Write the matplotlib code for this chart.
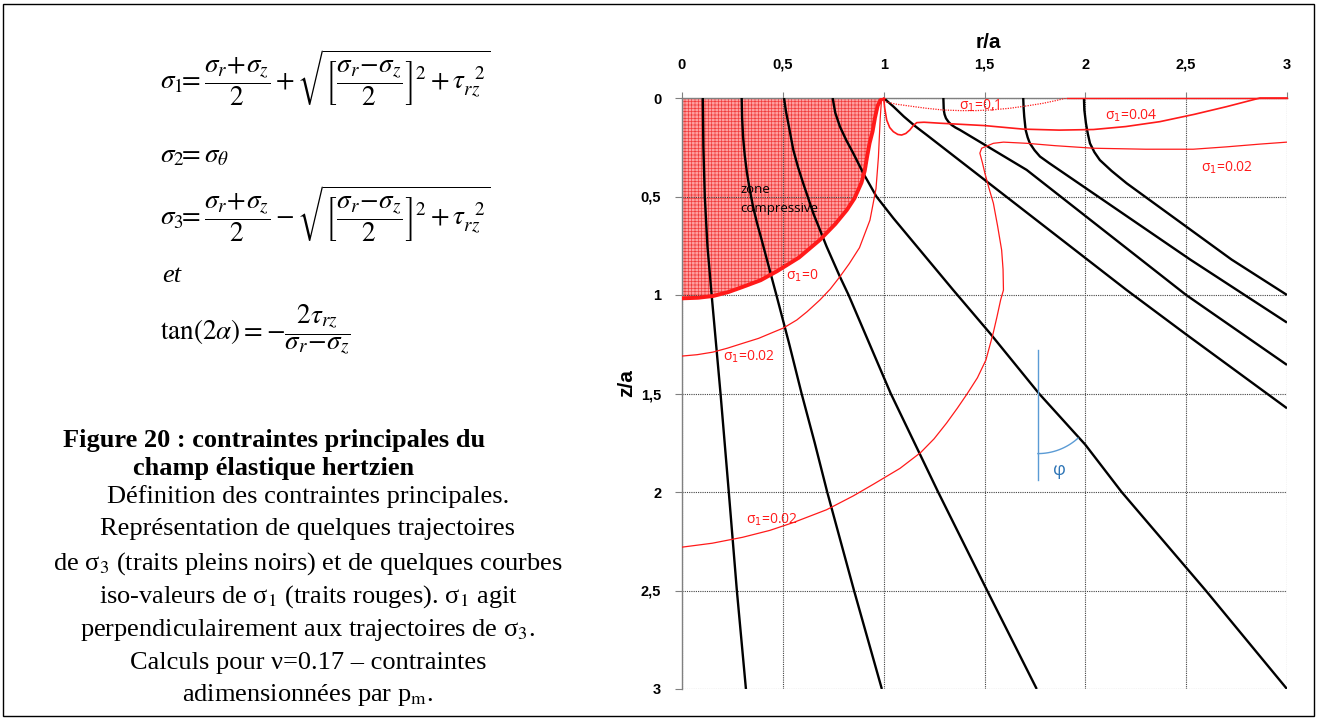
import numpy as np
import matplotlib
matplotlib.use('Agg')
import matplotlib.pyplot as plt
from matplotlib.patches import Rectangle

# ---------------- data ----------------
r_ticks = [0, 0.5, 1, 1.5, 2, 2.5, 3]
r_tick_labels = ['0', '0,5', '1', '1,5', '2', '2,5', '3']
z_ticks = [0, 0.5, 1, 1.5, 2, 2.5, 3]
z_tick_labels = ['0', '0,5', '1', '1,5', '2', '2,5', '3']

# sigma3 trajectories (black)
trajA_r = [0.103, 0.106, 0.113, 0.126, 0.147, 0.191, 0.232, 0.272, 0.317]
trajA_z = [0.0, 0.25, 0.5, 0.75, 1.0, 1.5, 2.0, 2.5, 3.0]
trajB_r = [0.296, 0.298, 0.303, 0.311, 0.322, 0.336, 0.352, 0.372, 0.395, 0.434, 0.468, 0.532, 0.593, 0.658, 0.72, 0.853, 0.991]
trajB_z = [0.0, 0.1, 0.2, 0.29, 0.38, 0.465, 0.55, 0.635, 0.72, 0.87, 1.0, 1.25, 1.5, 1.75, 2.0, 2.5, 3.0]
trajC_r = [0.506, 0.515, 0.527, 0.552, 0.575, 0.601, 0.651, 0.717, 0.783, 0.826, 1.035, 1.27, 1.513, 1.759]
trajC_z = [0.0, 0.065, 0.128, 0.264, 0.35, 0.433, 0.585, 0.754, 0.907, 1.0, 1.5, 2.0, 2.5, 3.0]
trajD_r = [0.747, 0.76, 0.783, 0.815, 0.849, 0.899, 0.964, 1.048, 1.345, 1.527, 1.77, 2.0, 2.18, 2.597, 3.0]
trajD_z = [0.0, 0.075, 0.145, 0.215, 0.28, 0.382, 0.5, 0.61, 0.975, 1.194, 1.5, 1.76, 2.0, 2.5, 3.0]
trajE_r = [1.0, 1.05, 1.1, 1.155, 1.214, 2.205, 2.5, 3.0]
trajE_z = [0.0, 0.045, 0.094, 0.142, 0.188, 0.975, 1.2, 1.575]
trajF_r = [1.296, 1.297, 1.298, 1.302, 1.309, 1.322, 1.337, 1.356, 1.378, 1.44, 1.709, 2.5, 3.0]
trajF_z = [0.0, 0.03, 0.061, 0.083, 0.103, 0.122, 0.137, 0.15, 0.162, 0.2, 0.365, 1.0, 1.355]
trajG_r = [1.692, 1.694, 1.697, 1.704, 1.714, 1.725, 1.748, 1.775, 1.82, 2.52, 3.0]
trajG_z = [0.0, 0.05, 0.094, 0.162, 0.2, 0.23, 0.265, 0.297, 0.33, 0.82, 1.14]
trajH_r = [1.993, 1.995, 2.003, 2.012, 2.023, 2.045, 2.072, 2.13, 2.205, 2.725, 3.0]
trajH_z = [0.0, 0.06, 0.128, 0.18, 0.23, 0.275, 0.315, 0.37, 0.433, 0.82, 1.0]

# sigma1 iso-value curves (red)
s1_0_r = [0.0, 0.08, 0.155, 0.23, 0.304, 0.39, 0.47, 0.58, 0.684, 0.76, 0.817, 0.855, 0.89,
          0.906, 0.918, 0.93, 0.945, 0.957, 0.97, 0.985, 1.0]
s1_0_z = [1.017, 1.014, 1.005, 0.985, 0.958, 0.925, 0.88, 0.81, 0.72, 0.64, 0.569, 0.51, 0.43,
          0.37, 0.297, 0.23, 0.17, 0.1, 0.04, 0.01, 0.0]
s1_01_r = [1.0, 1.006, 1.06, 1.13, 1.21, 1.296, 1.38, 1.46, 1.54, 1.626, 1.71, 1.79, 1.85, 1.907]
s1_01_z = [0.0, 0.019, 0.031, 0.041, 0.052, 0.061, 0.064, 0.064, 0.06, 0.052, 0.04, 0.027, 0.014, 0.0]
surf_r = [1.907, 3.0]
surf_z = [0.0, 0.0]
s1_004_r = [1.0, 1.005, 1.015, 1.03, 1.048, 1.07, 1.089, 1.11, 1.13, 1.147, 1.164, 1.2, 1.28, 1.5,
            1.692, 1.87, 2.04, 2.2, 2.37, 2.54, 2.7, 2.866, 3.0]
s1_004_z = [0.0, 0.05, 0.112, 0.15, 0.171, 0.185, 0.188, 0.18, 0.162, 0.14, 0.125, 0.123, 0.128, 0.14,
            0.158, 0.163, 0.16, 0.145, 0.12, 0.083, 0.044, 0.0, 0.0]
s1_002in_r = [0.99, 0.983, 0.974, 0.962, 0.932, 0.88, 0.83, 0.783, 0.735, 0.684, 0.62, 0.569, 0.502,
              0.45, 0.38, 0.302, 0.225, 0.153, 0.075, 0.0]
s1_002in_z = [0.0, 0.1, 0.3, 0.46, 0.62, 0.76, 0.84, 0.907, 0.97, 1.025, 1.085, 1.127, 1.168,
              1.19, 1.22, 1.245, 1.27, 1.29, 1.303, 1.31]
s1_002out_r = [3.0, 2.866, 2.7, 2.535, 2.3, 2.04, 1.85, 1.71, 1.594, 1.544, 1.486, 1.477, 1.49, 1.502,
               1.52, 1.544, 1.565, 1.585, 1.592, 1.594, 1.58, 1.562, 1.543, 1.507, 1.465, 1.415, 1.365,
               1.312, 1.25, 1.183, 1.081, 0.95, 0.849, 0.717, 0.552, 0.435, 0.3, 0.15, 0.0]
s1_002out_z = [0.224, 0.234, 0.248, 0.26, 0.26, 0.255, 0.242, 0.23, 0.224, 0.23, 0.255, 0.28, 0.33, 0.382,
               0.45, 0.534, 0.65, 0.772, 0.87, 0.975, 1.025, 1.11, 1.194, 1.33, 1.42, 1.5, 1.575,
               1.65, 1.73, 1.8, 1.88, 1.96, 2.02, 2.09, 2.155, 2.195, 2.23, 2.26, 2.28]

# labels on the plot: (text, r, z)
red_labels = [('σ$_1$=0,1', 1.475, 0.04),
              ('σ$_1$=0.04', 2.226, 0.09),
              ('σ$_1$=0.02', 2.70, 0.355),
              ('σ$_1$=0', 0.597, 0.90),
              ('σ$_1$=0.02', 0.333, 1.313),
              ('σ$_1$=0.02', 0.445, 2.14)]

# angle phi annotation
phi_r0, phi_z0 = 1.765, 1.5
phi_v_z = [1.28, 1.94]
phi_rad_r, phi_rad_z = 0.297, 0.305
phi_deg = 42

# ---------------- figure ----------------
plt.rcParams['mathtext.fontset'] = 'stix'
plt.rcParams['hatch.linewidth'] = 0.5

W, H = 1318, 720
fig = plt.figure(figsize=(W / 100, H / 100), dpi=100)
fig.patch.set_facecolor('white')

ax = fig.add_axes([682 / W, 1 - 689 / H, 605 / W, 591 / H])
ax.set_xlim(0, 3)
ax.set_ylim(3, 0)

# compressive zone
ax.fill([0] + s1_0_r, [0] + s1_0_z, facecolor='#ffa0a0', edgecolor='#f03c3c',
        hatch='+++++', linewidth=0, zorder=1)

ax.grid(True, color='#444444', linestyle=(0, (1, 1)), linewidth=0.8)

black_kw = dict(color='black', lw=1.7, zorder=3, solid_capstyle='butt', solid_joinstyle='round')
for rr, zz in [(trajA_r, trajA_z), (trajB_r, trajB_z), (trajC_r, trajC_z), (trajD_r, trajD_z),
               (trajE_r, trajE_z), (trajF_r, trajF_z), (trajG_r, trajG_z), (trajH_r, trajH_z)]:
    ax.plot(rr, zz, **black_kw)

red = '#ff1a1a'
ax.plot(s1_0_r, s1_0_z, color=red, lw=2.8, zorder=4, solid_joinstyle='round')
ax.plot(s1_01_r, s1_01_z, color=red, lw=0.9, ls=(0, (1, 1)), zorder=4)
ax.plot(surf_r, surf_z, color=red, lw=1.0, zorder=4, clip_on=False)
ax.plot(s1_004_r, s1_004_z, color=red, lw=1.2, zorder=4, clip_on=False)
ax.plot(s1_002in_r, s1_002in_z, color=red, lw=0.9, zorder=4)
ax.plot(s1_002out_r, s1_002out_z, color=red, lw=0.9, zorder=4)

for txt, rr, zz in red_labels:
    ax.text(rr, zz, txt, color=red, fontsize=10, family=['Open Sans', 'DejaVu Sans'],
            math_fontfamily='dejavusans', ha='center', va='center', zorder=5)

ax.text(0.288, 0.467, 'zone', fontsize=9.5, family=['Open Sans', 'DejaVu Sans'],
        ha='left', va='center', zorder=5)
ax.text(0.288, 0.563, 'compressive', fontsize=9.5, family=['Open Sans', 'DejaVu Sans'],
        ha='left', va='center', zorder=5)

# phi annotation
blue = '#5b9bd5'
ax.plot([phi_r0, phi_r0], phi_v_z, color=blue, lw=1.0, zorder=5)
t = np.radians(np.linspace(0, phi_deg, 30))
ax.plot(phi_r0 + phi_rad_r * np.sin(t), phi_z0 + phi_rad_z * np.cos(t), color=blue, lw=1.0, zorder=5)
ax.text(1.87, 1.89, 'φ', color='#2e75b6', fontsize=13, family=['Open Sans', 'DejaVu Sans'],
        ha='center', va='center', zorder=5)

# axes styling
ax.xaxis.tick_top()
ax.set_xticks(r_ticks)
ax.set_xticklabels(r_tick_labels, fontweight='bold', fontsize=10.5, family='Liberation Sans')
ax.set_yticks(z_ticks)
ax.set_yticklabels(z_tick_labels, fontweight='bold', fontsize=10.5, family='Liberation Sans')
ax.tick_params(axis='x', length=4, color='#808080', pad=15)
ax.tick_params(axis='y', length=5, color='#808080', pad=10)
for s in ['right', 'bottom']:
    ax.spines[s].set_visible(False)
for s in ['left', 'top']:
    ax.spines[s].set_color('#808080')
    ax.spines[s].set_linewidth(1.0)

fig.text(988 / W, 1 - 42 / H, 'r/a', fontsize=15, fontweight='bold', family='Liberation Sans',
         ha='center', va='center')
fig.text(627 / W, 1 - 383 / H, 'z/a', fontsize=15, fontweight='bold', family='Liberation Sans',
         ha='center', va='center', rotation=90)

# ---------------- left: equations ----------------
eq_kw = dict(fontsize=19.5, ha='left', va='center', math_fontfamily='stix')
fig.text(160 / W, 1 - 78 / H,
         r'$\sigma_1\!\!=\dfrac{\sigma_r\!+\!\sigma_z}{2}+\sqrt{\left[\dfrac{\sigma_r\!-\!\sigma_z}{2}\right]^2+\tau_{rz}^{\ \ 2}}$',
         **eq_kw)
fig.text(160 / W, 1 - 155 / H, r'$\sigma_2\!\!=\sigma_\theta$', **eq_kw)
fig.text(160 / W, 1 - 214 / H,
         r'$\sigma_3\!\!=\dfrac{\sigma_r\!+\!\sigma_z}{2}-\sqrt{\left[\dfrac{\sigma_r\!-\!\sigma_z}{2}\right]^2+\tau_{rz}^{\ \ 2}}$',
         **eq_kw)
fig.text(162 / W, 1 - 276 / H, 'et', fontsize=19, fontstyle='italic', family='Liberation Serif',
         ha='left', va='center')
fig.text(160 / W, 1 - 330 / H, r'$\tan(2\alpha)=-\dfrac{2\tau_{rz}}{\sigma_r\!-\!\sigma_z}$', **eq_kw)

# ---------------- left: caption ----------------
cap_kw = dict(fontsize=19, family=['Liberation Serif', 'DejaVu Serif'], va='center',
              math_fontfamily='stix')
fig.text(63 / W, 1 - 440 / H, 'Figure 20 : contraintes principales du', fontweight='bold',
         ha='left', **cap_kw)
fig.text(133 / W, 1 - 469 / H, 'champ élastique hertzien', fontweight='bold', ha='left', **cap_kw)
caption_lines = ['Définition des contraintes principales.',
                 'Représentation de quelques trajectoires',
                 'de σ$_3$ (traits pleins noirs) et de quelques courbes',
                 'iso-valeurs de σ$_1$ (traits rouges). σ$_1$ agit',
                 'perpendiculairement aux trajectoires de σ$_3$.',
                 'Calculs pour ν=0.17 – contraintes',
                 'adimensionnées par p$_{\\mathrm{m}}$.']
caption_y = [497, 529, 564, 597, 630, 663, 695]
for line, yy in zip(caption_lines, caption_y):
    fig.text(308 / W, 1 - yy / H, line, ha='center', **cap_kw)

# outer frame
fig.add_artist(Rectangle((3 / W, 4 / H), 1311 / W, 712 / H, transform=fig.transFigure,
                         fill=False, lw=1.0, ec='black'))

fig.savefig('out.png', dpi=100)
